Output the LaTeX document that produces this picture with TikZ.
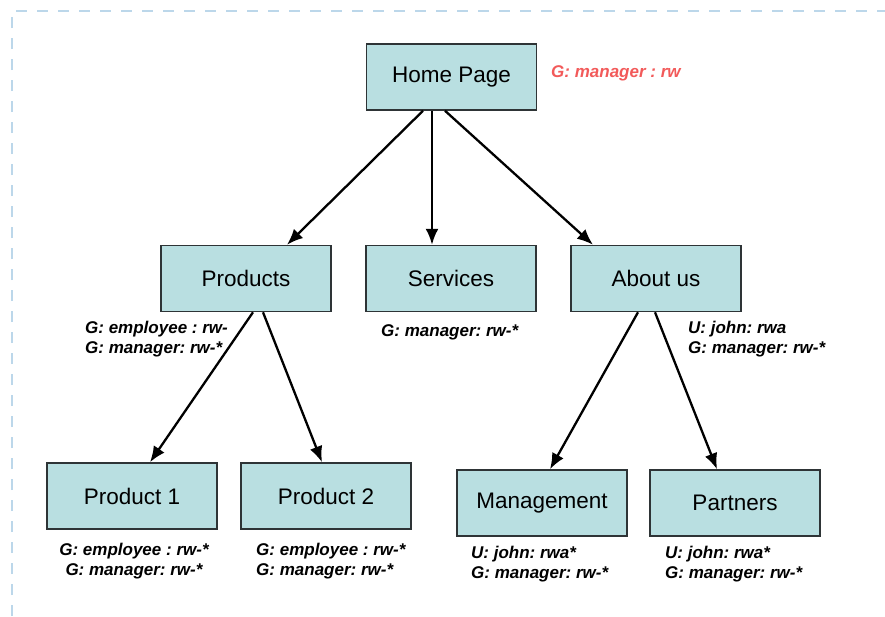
\documentclass[tikz,border=0pt]{standalone}
\usepackage{fontspec}
\setmainfont{Liberation Sans}
\usetikzlibrary{arrows.meta,calc}
\definecolor{boxfill}{HTML}{B9DFE1}
\definecolor{boxline}{HTML}{2E3436}
\definecolor{redlbl}{HTML}{F25A5A}
\definecolor{frame}{HTML}{BCD7EA}
\tikzset{
  page/.style={draw=boxline,fill=boxfill,line width=1.5pt,minimum width=170pt,minimum height=66pt,inner sep=0pt,font=\fontsize{22.5}{26}\selectfont},
  perm/.style={font=\fontsize{17}{20.5}\selectfont\bfseries\itshape\frenchspacing,inner sep=0pt,align=left},
  link/.style={line width=2.3pt,-{Latex[length=16pt,width=13pt]}}
}
\begin{document}
\begin{tikzpicture}[x=1pt,y=-1pt]
\useasboundingbox (0,0) rectangle (885,616);
\draw[frame,line width=1.5pt,dash pattern=on 11pt off 10pt] (12,616) -- (12,11) -- (885,11);

\node[page] (home) at (451.5,77) {Home Page};
\node[page] (prod) at (246,278.5) {Products};
\node[page] (serv) at (451,278.5) {Services};
\node[page] (about) at (656,278.5) {About us};
\node[page] (p1) at (132,496) {Product 1};
\node[page] (p2) at (326,496) {Product 2};
\node[page] (mgmt) at (542,503) {Management};
\node[page] (part) at (735,503) {Partners};

\node[perm,text=redlbl,anchor=west] (lhome) at (551,73) {G: manager : rw};
\node[perm,anchor=west] (lprod) at (85,339) {G: employee : rw-\\G: manager: rw-*};
\node[perm,anchor=west] (lserv) at (381,332) {G: manager: rw-*};
\node[perm,anchor=west] (labout) at (688,339) {U: john: rwa\\G: manager: rw-*};
\node[perm,align=center] (lp1) at (134,561) {G: employee : rw-*\\G: manager: rw-*};
\node[perm,anchor=west] (lp2) at (256,561) {G: employee : rw-*\\G: manager: rw-*};
\node[perm,anchor=west] (lmgmt) at (471,564) {U: john: rwa*\\G: manager: rw-*};
\node[perm,anchor=west] (lpart) at (665,564) {U: john: rwa*\\G: manager: rw-*};

\draw[link] ([xshift=-28.5pt]home.south) -- ([xshift=41pt]prod.north);
\draw[link] ([xshift=-19.5pt]home.south) -- ([xshift=-19pt]serv.north);
\draw[link] ([xshift=-6.5pt]home.south) -- ([xshift=-63pt]about.north);
\draw[link] ([xshift=7pt]prod.south) -- ([xshift=18pt]p1.north);
\draw[link] ([xshift=17pt]prod.south) -- ([xshift=-4pt]p2.north);
\draw[link] ([xshift=-18pt]about.south) -- ([xshift=8pt]mgmt.north);
\draw[link] ([xshift=-1pt]about.south) -- ([xshift=-18pt]part.north);
\end{tikzpicture}
\end{document}
